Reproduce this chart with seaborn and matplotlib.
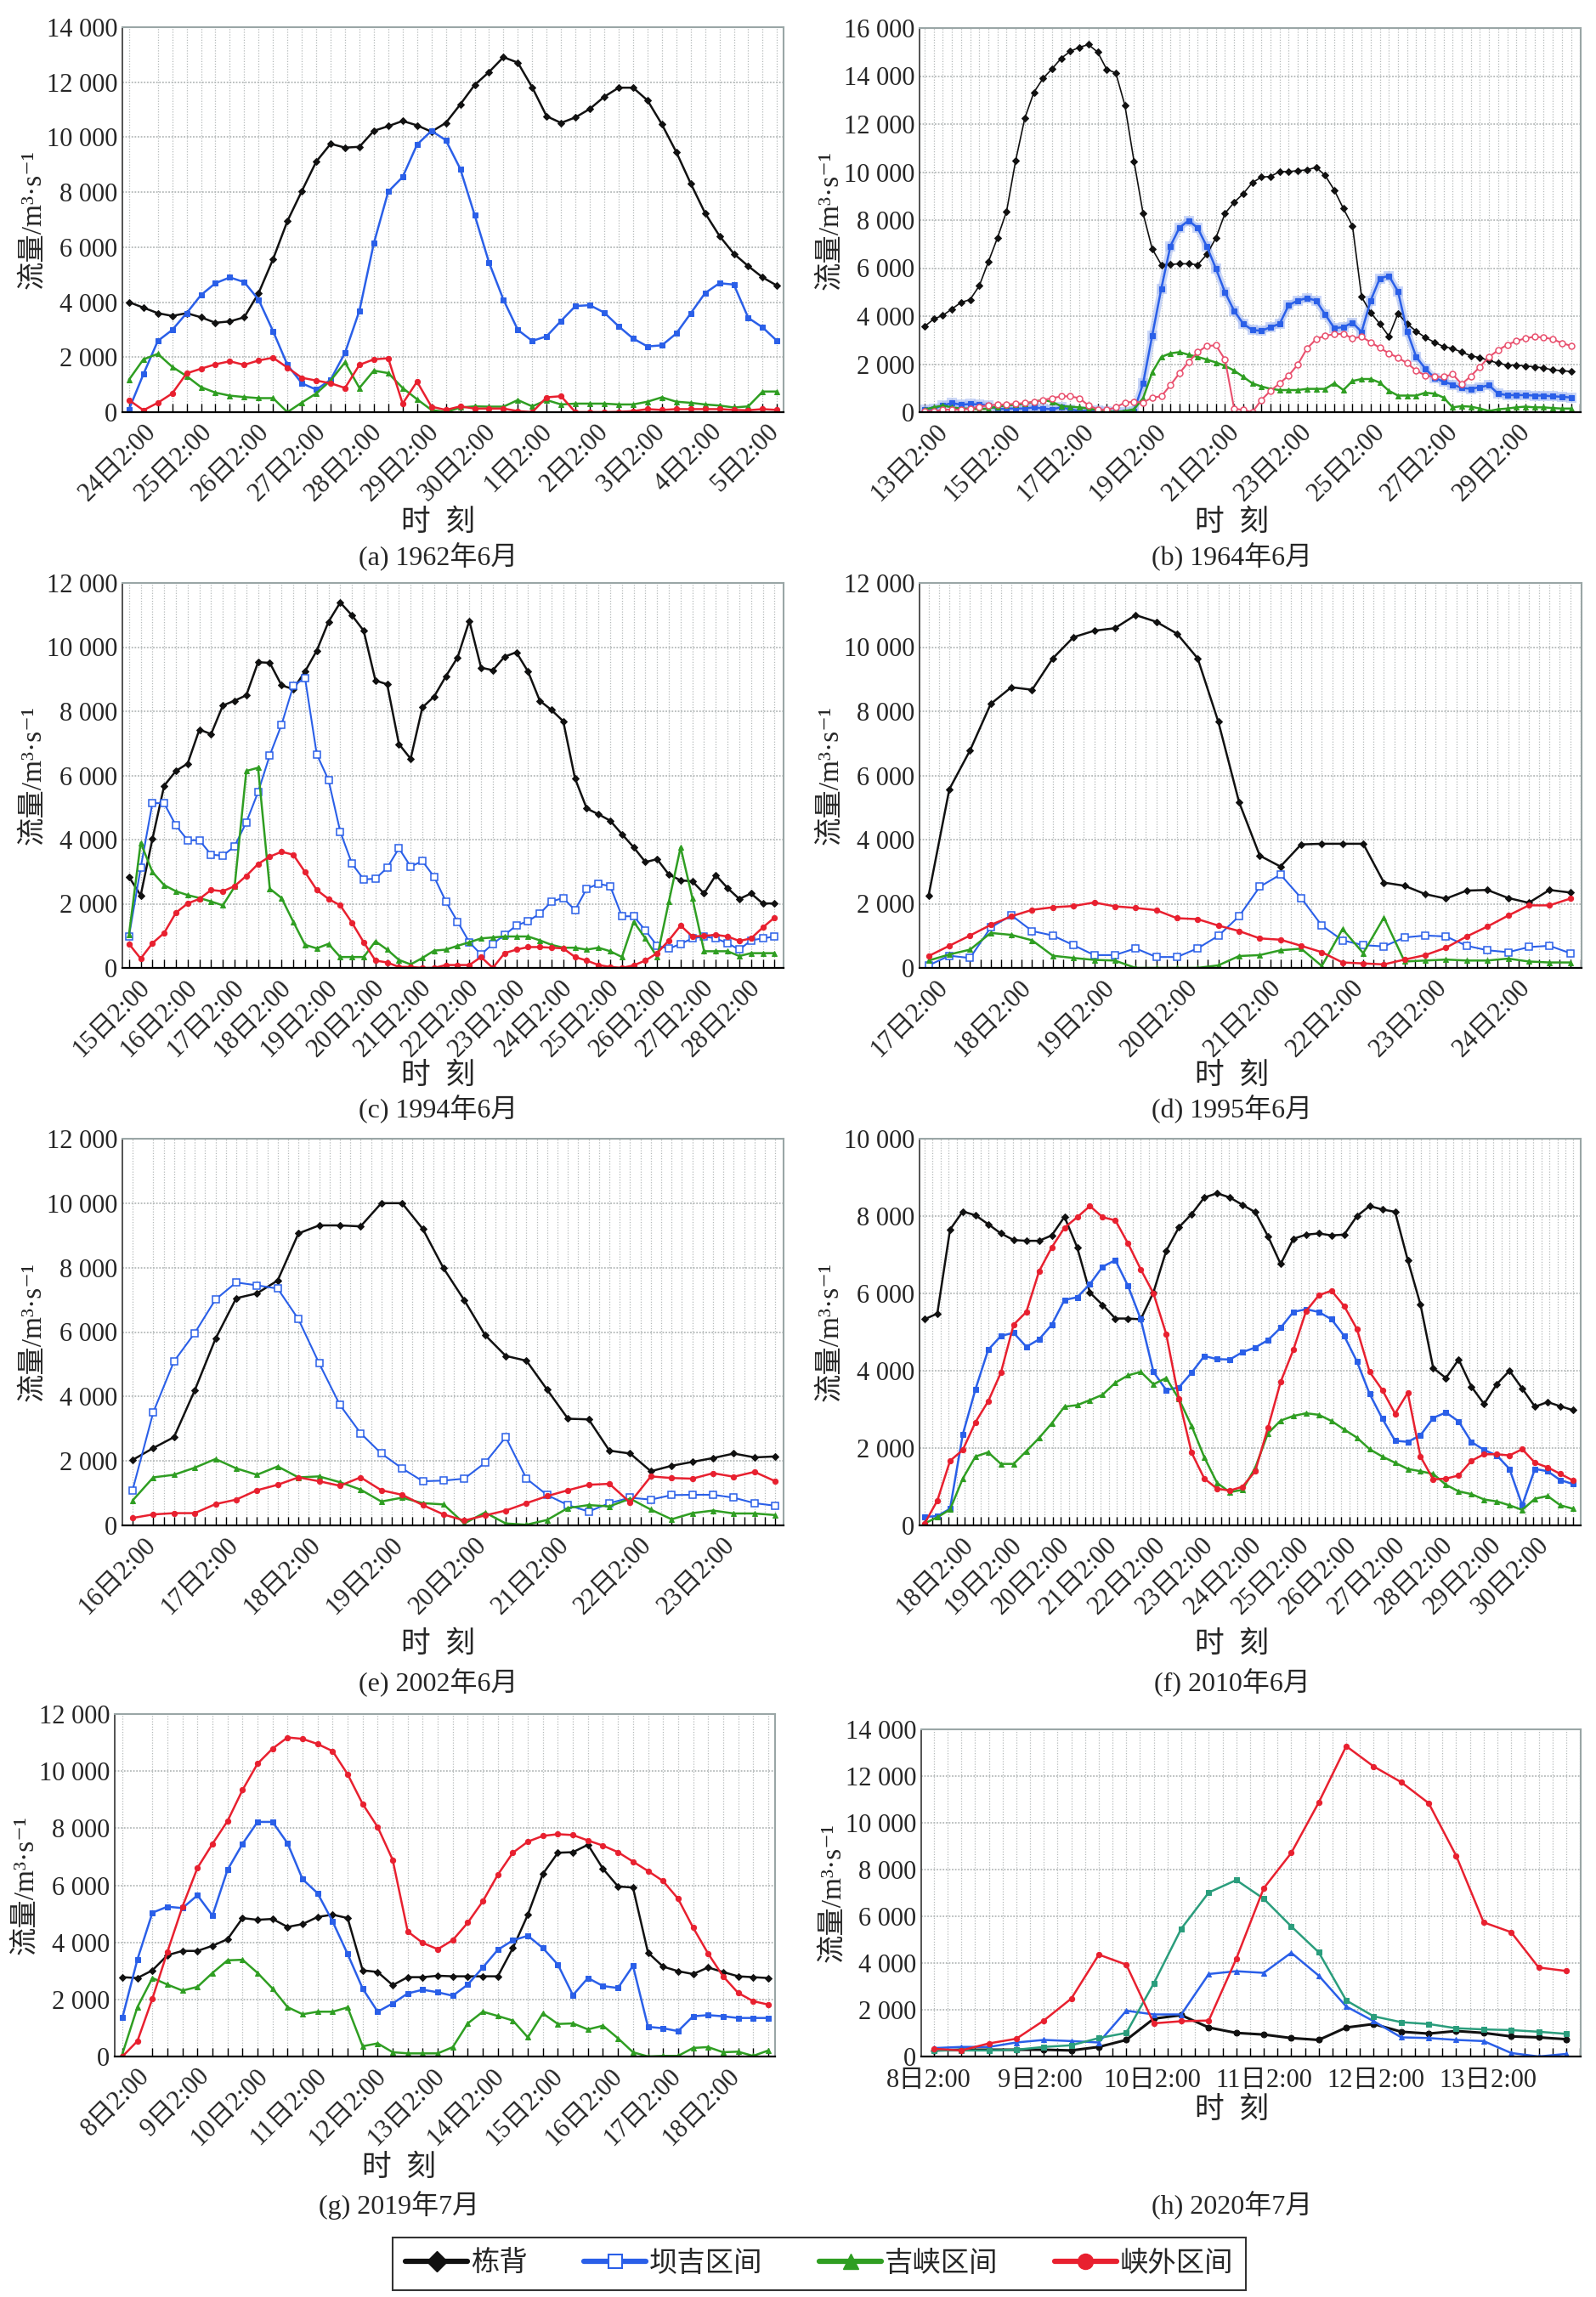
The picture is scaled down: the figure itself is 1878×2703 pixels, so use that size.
import numpy as np
import matplotlib
matplotlib.use('Agg')
import matplotlib.pyplot as plt
from matplotlib.lines import Line2D
import seaborn as sns

sns.set_style('white')
plt.rcParams['font.family'] = ['Liberation Serif', 'Noto Sans CJK SC', 'DejaVu Sans']
plt.rcParams['axes.unicode_minus'] = False

# ---------------- 数据 (6h 间隔, m3/s) ----------------
series_names = ['栋背', '坝吉区间', '吉峡区间', '峡外区间']

# (a) 1962年6月
a_dongbei = [4000, 3800, 3600, 3500, 3600, 3450, 3250, 3300, 3450, 4330, 5560, 6950, 8040, 9110, 9760, 9620,
             9650, 10230, 10400, 10590, 10430, 10200, 10520, 11190, 11900, 12370, 12910, 12710, 11810, 10760,
             10520, 10720, 11030, 11470, 11800, 11800, 11340, 10470, 9460, 8320, 7240, 6410, 5760, 5310, 4900, 4600]
a_baji = [100, 1380, 2590, 2990, 3600, 4260, 4690, 4900, 4730, 4090, 2950, 1720, 1050, 820, 1180, 2160, 3690,
          6140, 8020, 8550, 9730, 10230, 9890, 8850, 7170, 5440, 4090, 2990, 2590, 2760, 3320, 3860, 3890, 3620,
          3120, 2680, 2390, 2430, 2860, 3590, 4330, 4690, 4640, 3430, 3080, 2590]
a_jixia = [1180, 1920, 2120, 1650, 1310, 910, 710, 600, 550, 510, 510, 0, 350, 680, 1150, 1810, 880, 1510, 1420,
           880, 470, 80, 0, 170, 210, 200, 200, 440, 210, 440, 280, 310, 310, 310, 280, 280, 380, 540, 380, 340,
           280, 240, 170, 210, 750, 750]
a_xiawai = [440, 70, 340, 680, 1410, 1580, 1740, 1850, 1720, 1880, 1980, 1620, 1250, 1150, 1050, 880, 1720, 1920,
            1960, 310, 1110, 200, 80, 210, 130, 130, 130, 40, 0, 540, 580, 0, 0, 0, 10, 40, 110, 80, 110, 110,
            110, 110, 80, 70, 110, 80]
a_labels = ['24日2:00', '25日2:00', '26日2:00', '27日2:00', '28日2:00', '29日2:00', '30日2:00',
            '1日2:00', '2日2:00', '3日2:00', '4日2:00', '5日2:00']

# (b) 1964年6月
b_dongbei = [3570, 3880, 4030, 4300, 4570, 4690, 5260, 6260, 7260, 8360, 10480, 12240, 13320, 13900, 14300, 14740,
             15030, 15200, 15310, 15000, 14280, 14130, 12780, 10450, 8280, 6800, 6140, 6150, 6180, 6180, 6140, 6570,
             7260, 8280, 8740, 9100, 9560, 9790, 9820, 10020, 10020, 10060, 10090, 10200, 9860, 9250, 8480, 7760,
             4800, 4140, 3680, 3160, 4110, 3680, 3370, 3110, 2910, 2730, 2650, 2500, 2350, 2270, 2150, 2040, 1960,
             1960, 1920, 1890, 1840, 1760, 1730, 1690]
b_baji = [90, 150, 280, 380, 310, 340, 320, 280, 120, 150, 150, 150, 200, 150, 120, 200, 120, 50, 50, 80, 50, 0, 0,
          50, 1200, 3190, 5150, 6920, 7690, 7980, 7670, 6900, 5980, 4990, 4220, 3680, 3420, 3390, 3540, 3680, 4460,
          4650, 4750, 4650, 4070, 3500, 3540, 3730, 3340, 4650, 5570, 5680, 5030, 3370, 2300, 1810, 1430, 1270,
          1150, 1010, 970, 1040, 1120, 770, 710, 710, 710, 690, 690, 660, 640, 610]
b_jixia = [120, 200, 280, 200, 150, 150, 120, 150, 230, 280, 310, 350, 430, 510, 430, 250, 230, 200, 150, 90, 50, 0,
           50, 120, 580, 1660, 2300, 2450, 2500, 2390, 2300, 2190, 2070, 1930, 1730, 1470, 1200, 1070, 970, 920,
           920, 920, 970, 970, 970, 1200, 920, 1300, 1380, 1380, 1230, 890, 690, 690, 690, 810, 770, 610, 200, 250,
           230, 150, 50, 120, 150, 200, 230, 200, 200, 170, 150, 150]
b_xiawai = [50, 50, 90, 120, 90, 150, 230, 280, 310, 320, 350, 380, 430, 510, 580, 660, 660, 580, 280, 120, 90, 200,
            400, 430, 400, 610, 660, 1120, 1630, 2090, 2500, 2760, 2780, 2190, 150, 90, 0, 510, 890, 1200, 1530,
            1990, 2650, 3040, 3190, 3240, 3270, 3070, 3140, 2910, 2680, 2450, 2270, 2040, 1730, 1530, 1470, 1470,
            1580, 1170, 1500, 1890, 2300, 2580, 2810, 2960, 3080, 3140, 3110, 3040, 2880, 2760]
b_labels = ['13日2:00', '15日2:00', '17日2:00', '19日2:00', '21日2:00', '23日2:00', '25日2:00', '27日2:00', '29日2:00']

# (c) 1994年6月
c_dongbei = [2840, 2260, 4020, 5680, 6140, 6370, 7430, 7290, 8180, 8330, 8500, 9530, 9510, 8810, 8690, 9240, 9890,
             10790, 11390, 10990, 10510, 8960, 8840, 6980, 6520, 8120, 8460, 9090, 9680, 10820, 9360, 9280, 9700,
             9840, 9240, 8330, 8040, 7690, 5910, 4970, 4790, 4590, 4170, 3760, 3300, 3390, 2910, 2730, 2700, 2320,
             2890, 2490, 2150, 2320, 2010, 2010]
c_baji = [980, 3120, 5140, 5130, 4440, 3980, 3980, 3530, 3500, 3790, 4540, 5480, 6630, 7580, 8790, 9040, 6660, 5860,
          4250, 3250, 2760, 2780, 3120, 3730, 3160, 3330, 2840, 2070, 1440, 800, 420, 750, 1030, 1320, 1460, 1690,
          2070, 2180, 1800, 2470, 2620, 2550, 1610, 1610, 1170, 690, 600, 750, 920, 980, 920, 770, 570, 860, 920, 980]
c_jixia = [1030, 3900, 2990, 2580, 2390, 2270, 2180, 2070, 1950, 2530, 6140, 6240, 2470, 2180, 1440, 720, 610, 750,
           340, 340, 340, 830, 570, 250, 110, 310, 540, 570, 690, 800, 920, 950, 980, 980, 980, 860, 720, 630, 630,
           570, 630, 520, 340, 1440, 920, 340, 2070, 3760, 2180, 520, 520, 520, 370, 460, 460, 460]
c_xiawai = [750, 290, 770, 1090, 1720, 2010, 2150, 2430, 2390, 2550, 2870, 3240, 3470, 3620, 3530, 2990, 2430, 2150,
            1950, 1410, 800, 230, 170, 30, 30, 0, 0, 90, 90, 90, 340, 0, 460, 570, 650, 650, 630, 610, 340, 230, 90,
            30, 0, 80, 230, 460, 860, 1320, 980, 1000, 1030, 980, 840, 920, 1260, 1570]
c_labels = ['%d日2:00' % d for d in range(15, 29)]

# (d) 1995年6月
d_dongbei = [2260, 5570, 6780, 8230, 8750, 8670, 9650, 10310, 10510, 10590, 11000, 10790, 10420, 9650, 7670, 5170,
             3500, 3160, 3850, 3870, 3870, 3870, 2660, 2560, 2300, 2160, 2410, 2430, 2180, 2030, 2430, 2350]
d_baji = [80, 380, 310, 1260, 1640, 1150, 1010, 710, 400, 400, 610, 340, 340, 610, 1000, 1610, 2530, 2910, 2180,
          1320, 860, 710, 670, 950, 1010, 980, 690, 550, 490, 650, 690, 460]
d_jixia = [230, 420, 570, 1090, 1030, 860, 380, 310, 250, 230, 0, 0, 0, 0, 80, 370, 400, 550, 600, 60, 1210, 460,
           1570, 200, 230, 260, 230, 230, 290, 200, 170, 170]
d_xiawai = [370, 690, 1010, 1340, 1610, 1810, 1890, 1930, 2040, 1920, 1870, 1800, 1550, 1520, 1320, 1150, 920, 880,
            690, 490, 170, 140, 110, 260, 400, 630, 980, 1290, 1630, 1950, 1950, 2160]
d_labels = ['%d日2:00' % d for d in range(17, 25)]

# (e) 2002年6月
e_dongbei = [2030, 2400, 2740, 4190, 5790, 7050, 7200, 7600, 9060, 9310, 9310, 9280, 10000, 10000, 9200, 7980, 6990,
             5910, 5260, 5110, 4210, 3310, 3290, 2320, 2230, 1680, 1850, 1970, 2090, 2230, 2110, 2140]
e_baji = [1090, 3510, 5090, 5970, 7010, 7540, 7450, 7350, 6400, 5030, 3740, 2860, 2230, 1770, 1370, 1390, 1450,
          1940, 2740, 1450, 940, 630, 430, 690, 860, 800, 940, 950, 950, 860, 690, 610]
e_jixia = [770, 1490, 1570, 1790, 2060, 1770, 1570, 1830, 1490, 1520, 1340, 1110, 740, 860, 690, 650, 60, 400, 60,
           20, 170, 540, 630, 590, 830, 490, 190, 380, 460, 370, 370, 320]
e_xiawai = [230, 340, 380, 380, 660, 800, 1090, 1260, 1490, 1370, 1230, 1490, 1090, 950, 630, 340, 150, 310, 460,
            690, 910, 1090, 1260, 1290, 710, 1520, 1470, 1450, 1620, 1510, 1660, 1370]
e_labels = ['%d日2:00' % d for d in range(16, 24)]

# (f) 2010年6月
f_dongbei = [5330, 5480, 7650, 8120, 8020, 7790, 7550, 7380, 7360, 7360, 7500, 7980, 7190, 6020, 5700, 5350, 5350,
             5330, 6030, 7100, 7710, 8050, 8480, 8590, 8480, 8290, 8100, 7480, 6760, 7410, 7520, 7550, 7500, 7520,
             8000, 8260, 8170, 8110, 6860, 5710, 4070, 3810, 4290, 3590, 3140, 3650, 4000, 3540, 3070, 3190, 3080,
             2980]
f_baji = [220, 240, 430, 2350, 3520, 4540, 4900, 4980, 4620, 4810, 5190, 5830, 5900, 6240, 6690, 6860, 6190, 5330,
          3970, 3500, 3570, 3950, 4380, 4300, 4290, 4480, 4600, 4790, 5110, 5520, 5590, 5520, 5330, 4900, 4240,
          3400, 2760, 2190, 2160, 2330, 2780, 2920, 2690, 2160, 1950, 1810, 1460, 520, 1460, 1400, 1170, 1070]
f_jixia = [50, 210, 410, 1210, 1780, 1890, 1590, 1590, 1920, 2260, 2640, 3070, 3110, 3240, 3380, 3690, 3880, 3970,
           3650, 3810, 3270, 2570, 1760, 1100, 860, 920, 1490, 2380, 2710, 2830, 2900, 2860, 2700, 2480, 2270, 1970,
           1780, 1620, 1460, 1400, 1330, 1050, 880, 810, 670, 620, 520, 400, 690, 760, 520, 430]
f_xiawai = [50, 640, 1670, 1950, 2670, 3210, 3950, 5190, 5520, 6570, 7190, 7700, 7970, 8260, 7970, 7890, 7290,
            6620, 6000, 4950, 3270, 1880, 1210, 950, 900, 1000, 1400, 2520, 3710, 4540, 5540, 5950, 6070, 5670,
            5080, 3970, 3500, 2890, 3430, 1780, 1190, 1210, 1290, 1670, 1840, 1840, 1810, 1970, 1620, 1500, 1330,
            1160]
f_labels = ['%d日2:00' % d for d in range(18, 31)]

# (g) 2019年7月
g_dongbei = [2780, 2750, 3020, 3550, 3700, 3700, 3880, 4110, 4850, 4790, 4820, 4540, 4640, 4890, 4970, 4850, 3020,
             2960, 2500, 2780, 2780, 2830, 2810, 2810, 2810, 2810, 3800, 4970, 6400, 7140, 7160, 7420, 6580, 5960,
             5920, 3640, 3150, 2990, 2890, 3120, 2960, 2810, 2780, 2750]
g_baji = [1360, 3400, 5040, 5250, 5200, 5650, 4940, 6540, 7450, 8220, 8220, 7470, 6210, 5720, 4730, 3590, 2380,
          1570, 1860, 2210, 2340, 2250, 2130, 2520, 3120, 3740, 4070, 4230, 3800, 3220, 2150, 2750, 2470, 2400,
          3180, 1040, 990, 890, 1410, 1450, 1410, 1350, 1350, 1350]
g_jixia = [90, 1730, 2750, 2520, 2310, 2440, 2930, 3370, 3390, 2930, 2380, 1730, 1480, 1570, 1570, 1720, 360, 460,
           150, 110, 110, 110, 330, 1160, 1570, 1420, 1260, 670, 1510, 1140, 1160, 950, 1080, 640, 150, 0, 20, 20,
           300, 330, 150, 170, 20, 210]
g_xiawai = [0, 540, 2030, 3670, 5250, 6610, 7450, 8250, 9340, 10260, 10790, 11180, 11130, 10950, 10700, 9890, 8850,
            8040, 6890, 4380, 3980, 3760, 4080, 4690, 5440, 6370, 7140, 7530, 7730, 7790, 7760, 7570, 7390, 7160,
            6830, 6500, 6150, 5530, 4520, 3610, 2810, 2230, 1940, 1820]
g_labels = ['%d日2:00' % d for d in range(8, 19)]

# (h) 2020年7月
h_dongbei = [260, 290, 290, 290, 290, 260, 410, 710, 1620, 1770, 1240, 1010, 940, 790, 710, 1240, 1390, 1060, 980,
             1090, 1010, 860, 820, 740]
h_baji = [360, 410, 410, 600, 710, 660, 600, 1960, 1800, 1800, 3530, 3650, 3580, 4440, 3460, 2140, 1510, 820, 790,
          710, 660, 150, 0, 110]
h_jixia = [260, 260, 260, 290, 410, 480, 790, 1010, 3130, 5470, 7020, 7550, 6750, 5570, 4460, 2400, 1720, 1470,
           1390, 1210, 1160, 1130, 1060, 970]
h_xiawai = [330, 260, 560, 760, 1540, 2480, 4360, 3930, 1420, 1510, 1540, 4180, 7200, 8710, 10870, 13280, 12410,
            11740, 10840, 8590, 5740, 5320, 3810, 3660]
h_labels = ['%d日2:00' % d for d in range(8, 14)]

BLACK, BLUE, GREEN, RED = '#111111', '#2a5fe8', '#2f9e22', '#e8202f'

W, H = 1878, 2703
fig = plt.figure(figsize=(W / 100, H / 100), dpi=100)


def box(l, r, t, b):
    return [l / W, 1 - b / H, (r - l) / W, (b - t) / H]


panels = [
    dict(data=[a_dongbei, a_baji, a_jixia, a_xiawai], ymax=14000, labels=a_labels, t0=1.0, tstep=3.93,
         xlim=(-0.46, 45.45), grid=1.0, box=box(144, 922, 32, 485), hollow=False,
         cx=516, xl_y=615, ti_y=655, title='(a) 1962年6月'),
    dict(data=[b_dongbei, b_baji, b_jixia, b_xiawai], ymax=16000, labels=b_labels, t0=1.2, tstep=8.0,
         xlim=(-0.56, 72.07), grid=1.0, box=box(1082, 1860, 33, 485), hollow=False, glow=True,
         cx=1450, xl_y=615, ti_y=655, title='(b) 1964年6月'),
    dict(data=[c_dongbei, c_baji, c_jixia, c_xiawai], ymax=12000, labels=c_labels, t0=0.74, tstep=4.0,
         xlim=(-0.56, 55.77), grid=1.0, box=box(144, 922, 686, 1139), hollow=True,
         cx=516, xl_y=1266, ti_y=1305, title='(c) 1994年6月'),
    dict(data=[d_dongbei, d_baji, d_jixia, d_xiawai], ymax=12000, labels=d_labels, t0=0.34, tstep=4.02,
         xlim=(-0.44, 31.55), grid=0.5, box=box(1082, 1861, 686, 1139), hollow=True,
         cx=1450, xl_y=1266, ti_y=1305, title='(d) 1995年6月'),
    dict(data=[e_dongbei, e_baji, e_jixia, e_xiawai], ymax=12000, labels=e_labels, t0=0.5, tstep=3.99,
         xlim=(-0.49, 31.4), grid=0.5, box=box(144, 922, 1340, 1795), hollow=True,
         cx=516, xl_y=1935, ti_y=1980, title='(e) 2002年6月'),
    dict(data=[f_dongbei, f_baji, f_jixia, f_xiawai], ymax=10000, labels=f_labels, t0=2.88, tstep=3.77,
         xlim=(-0.4, 51.6), grid=0.63, box=box(1082, 1860, 1340, 1795), hollow=False,
         cx=1450, xl_y=1935, ti_y=1980, title='(f) 2010年6月'),
    dict(data=[g_dongbei, g_baji, g_jixia, g_xiawai], ymax=12000, labels=g_labels, t0=1.0, tstep=3.93,
         xlim=(-0.51, 43.46), grid=1.0, box=box(135, 912, 2017, 2420), hollow=False,
         cx=470, xl_y=2551, ti_y=2595, title='(g) 2019年7月'),
    dict(data=[h_dongbei, h_baji, h_jixia, h_xiawai], ymax=14000, labels=h_labels, t0=-0.2, tstep=4.07,
         xlim=(-0.46, 23.53), grid=0.5, box=box(1084, 1860, 2035, 2420), hollow=False, flat=True,
         cx=1450, xl_y=2483, ti_y=2595, title='(h) 2020年7月'),
]


def yfmt(v):
    return '{:,}'.format(int(v)).replace(',', ' ')


for p in panels:
    ax = fig.add_axes(p['box'])
    dongbei, baji, jixia, xiawai = p['data']
    n = len(dongbei)
    x = np.arange(n)
    flat = p.get('flat', False)

    if p.get('glow'):
        sns.lineplot(x=x, y=baji, ax=ax, color='#a9bdf2', lw=6, alpha=0.6, marker='s', markersize=9,
                     markeredgewidth=0, legend=False)

    black_kw = dict(marker='D', markersize=4.5, lw=1.2 if p.get('glow') else 1.8)
    if flat:
        black_kw = dict(marker='o', markersize=5, lw=2.2)
    sns.lineplot(x=x, y=dongbei, ax=ax, color=BLACK, markeredgecolor=BLACK, legend=False, **black_kw)

    if p['hollow']:
        sns.lineplot(x=x, y=baji, ax=ax, color=BLUE, lw=1.5, marker='s', markersize=5.5,
                     markerfacecolor='white', markeredgecolor=BLUE, markeredgewidth=1.1, legend=False)
    else:
        sns.lineplot(x=x, y=baji, ax=ax, color=BLUE, lw=1.8, marker='^' if flat else 's', markersize=5,
                     markeredgecolor=BLUE, legend=False)

    gcol = '#2a9d7c' if flat else GREEN
    sns.lineplot(x=x, y=jixia, ax=ax, color=gcol, lw=1.8, marker='s' if flat else '^', markersize=5,
                 markeredgecolor=gcol, legend=False)

    if p.get('glow'):
        sns.lineplot(x=x, y=xiawai, ax=ax, color='#e9506e', lw=1.5, marker='o', markersize=5,
                     markerfacecolor='white', markeredgecolor='#e9506e', markeredgewidth=1.1, legend=False)
    else:
        sns.lineplot(x=x, y=xiawai, ax=ax, color=RED, lw=1.8, marker='o', markersize=4.5,
                     markeredgecolor=RED, legend=False)

    ax.set_xlim(*p['xlim'])
    ax.set_ylim(0, p['ymax'])

    yt = np.arange(0, p['ymax'] + 1, 2000)
    ax.set_yticks(yt)
    ax.set_yticklabels([yfmt(v) for v in yt], fontsize=22)

    ticks = [p['t0'] + k * p['tstep'] for k in range(len(p['labels']))]
    ax.set_xticks(ticks)
    if flat:
        ax.set_xticklabels(p['labels'], fontsize=22, rotation=0, ha='center')
    else:
        ax.set_xticklabels(p['labels'], fontsize=22, rotation=45, ha='right', va='top',
                           rotation_mode='anchor')
    g0 = np.ceil(p['xlim'][0] / p['grid']) * p['grid']
    ax.set_xticks(np.arange(g0, p['xlim'][1], p['grid']), minor=True)

    ax.tick_params(axis='x', which='major', length=0, pad=10 if flat else 6)
    ax.tick_params(axis='x', which='minor', direction='in', length=7, width=1, color='black', bottom=True)
    ax.tick_params(axis='y', length=0, pad=4)

    ax.set_axisbelow(True)
    ax.xaxis.grid(False, which='major')
    ax.xaxis.grid(True, which='minor', ls=(0, (1, 1.5)), color='#b4b9b9', lw=0.9)
    ax.yaxis.grid(True, which='major', ls=(0, (1, 1)), color='#b4b9b9', lw=1.3)

    for side in ['top', 'right']:
        ax.spines[side].set_color('#9aa6a6')
        ax.spines[side].set_linewidth(1.5)
    ax.spines['left'].set_color('#444444')
    ax.spines['left'].set_linewidth(1.3)
    ax.spines['bottom'].set_color('black')
    ax.spines['bottom'].set_linewidth(1.6)

    ax.set_xlabel('')
    ax.set_ylabel('流量/m³·s⁻¹', fontsize=24)
    ax.yaxis.set_label_coords(-0.115, 0.5)

    fig.text(p['cx'] / W, 1 - p['xl_y'] / H, '时  刻', fontsize=25, ha='center', va='center')
    fig.text(p['cx'] / W, 1 - p['ti_y'] / H, p['title'], fontsize=23, ha='center', va='center')

handles = [
    Line2D([], [], color=BLACK, lw=4.5, marker='D', markersize=12),
    Line2D([], [], color=BLUE, lw=4.5, marker='s', markersize=11, markerfacecolor='white',
           markeredgecolor=BLUE, markeredgewidth=1.5),
    Line2D([], [], color=GREEN, lw=4.5, marker='^', markersize=13),
    Line2D([], [], color=RED, lw=4.5, marker='o', markersize=13),
]
leg = fig.legend(handles, series_names, loc='center', bbox_to_anchor=(964 / W, 1 - 2664 / H), ncol=4,
                 frameon=True, fancybox=False, edgecolor='black', fontsize=24, handlelength=2.2,
                 handletextpad=0.1, columnspacing=2.0, borderpad=0.45)
leg.get_frame().set_linewidth(1.5)

fig.savefig('out.png', dpi=100, facecolor='white')
